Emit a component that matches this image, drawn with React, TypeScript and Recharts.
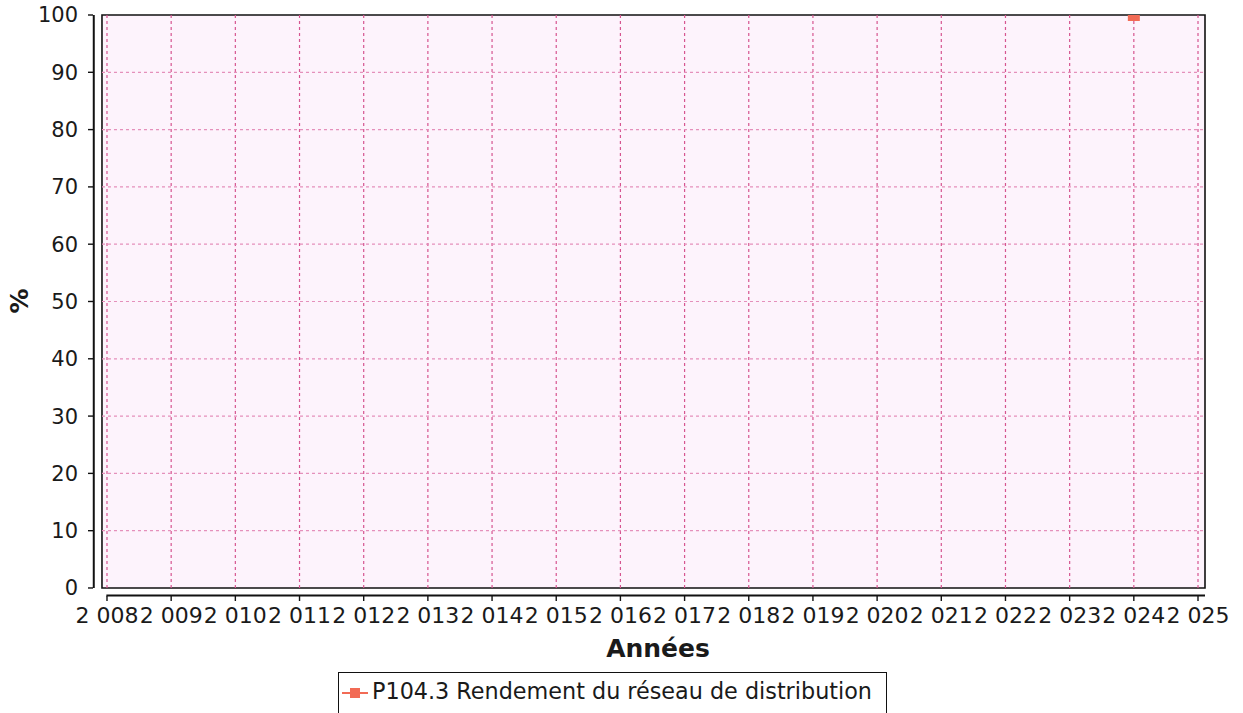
import React from 'react';
import {
  LineChart, Line, XAxis, YAxis, ReferenceLine, ReferenceArea, Label,
} from 'recharts';

// valeurs
const annees = [2008, 2009, 2010, 2011, 2012, 2013, 2014, 2015, 2016, 2017, 2018, 2019, 2020, 2021, 2022, 2023, 2024, 2025];
const yTicks = [0, 10, 20, 30, 40, 50, 60, 70, 80, 90, 100];
const serieAnnees = [2024];
const serieValeurs = [100];
const serieNom = 'P104.3 Rendement du réseau de distribution';

const data = serieAnnees.map((a, i) => ({ annee: a, valeur: serieValeurs[i] }));

const FONT = '"DejaVu Sans", sans-serif';
const X_MIN = 2007.782;
const X_MAX = 2025.109;
const BOX_LEFT = 2007.922;
const AXIS_X_START = 2007.99;
const Y_MIN = -1.4;
const ORANGE = '#f26b55';

const fmtAnnee = (v: number) => `${Math.floor(v / 1000)} ${String(v % 1000).padStart(3, '0')}`;

const SquareDot = (props: any) => {
  const { cx, cy } = props;
  if (cx == null || cy == null) return null;
  return <rect x={cx - 6} y={cy - 6} width={12} height={12} fill={ORANGE} />;
};

export default function App() {
  return (
    <div style={{ position: 'absolute', left: 0, top: 0, width: 1243, height: 713, overflow: 'hidden', background: '#fff' }}>
      <LineChart
        width={1243}
        height={713}
        data={data}
        margin={{ top: 15, right: 38, left: 0, bottom: 0 }}
      >
        {/* fond rose du cadre */}
        <ReferenceArea x1={BOX_LEFT} x2={X_MAX} y1={0} y2={100} fill="#ee88dd" fillOpacity={0.1} stroke="none" ifOverflow="visible" />

        {annees.map((a) => (
          <ReferenceLine
            key={'v' + a}
            segment={[{ x: a, y: 0 }, { x: a, y: 100 }]}
            stroke="#d65590"
            strokeDasharray="3 3"
            strokeWidth={1.2}
            ifOverflow="visible"
          />
        ))}
        {yTicks.slice(1, -1).map((t) => (
          <ReferenceLine
            key={'h' + t}
            segment={[{ x: BOX_LEFT, y: t }, { x: X_MAX, y: t }]}
            stroke="#e590bb"
            strokeDasharray="3 3"
            strokeWidth={1.2}
            ifOverflow="visible"
          />
        ))}

        {/* cadre */}
        <ReferenceArea x1={BOX_LEFT} x2={X_MAX} y1={0} y2={100} fill="none" stroke="#111" strokeWidth={1.6} ifOverflow="visible" />

        {/* lignes des axes décalées */}
        <ReferenceLine segment={[{ x: X_MIN + 0.012, y: 0 }, { x: X_MIN + 0.012, y: 100 }]} stroke="#111" strokeWidth={2} ifOverflow="visible" />
        <ReferenceLine segment={[{ x: AXIS_X_START, y: Y_MIN + 0.1 }, { x: X_MAX, y: Y_MIN + 0.1 }]} stroke="#111" strokeWidth={2} ifOverflow="visible" />

        <XAxis
          dataKey="annee"
          type="number"
          domain={[X_MIN, X_MAX]}
          ticks={annees}
          interval={0}
          tickFormatter={fmtAnnee}
          axisLine={false}
          tickLine={{ stroke: '#111', strokeWidth: 1.4 }}
          tickSize={5}
          tickMargin={6}
          height={117}
          tick={{ fontSize: 22, fill: '#1a1a1a', fontFamily: FONT }}
          allowDataOverflow
        >
          <Label
            content={() => (
              <text x={658} y={648} textAnchor="middle" dominantBaseline="central" fontFamily={FONT} fontWeight="bold" fontSize={25} fill="#1a1a1a">
                Années
              </text>
            )}
          />
        </XAxis>
        <YAxis
          type="number"
          domain={[Y_MIN, 100]}
          ticks={yTicks}
          interval={0}
          width={93}
          axisLine={false}
          tickLine={{ stroke: '#111', strokeWidth: 1.4 }}
          tickSize={5}
          tickMargin={10}
          tick={{ fontSize: 21, fill: '#1a1a1a', fontFamily: FONT }}
          allowDataOverflow
        >
          <Label
            content={() => (
              <text x={19} y={301} textAnchor="middle" dominantBaseline="central" transform="rotate(-90 19 301)" fontFamily={FONT} fontWeight="bold" fontSize={25} fill="#1a1a1a">
                %
              </text>
            )}
          />
        </YAxis>

        <Line
          dataKey="valeur"
          name={serieNom}
          stroke={ORANGE}
          strokeWidth={2}
          dot={<SquareDot />}
          activeDot={false}
          isAnimationActive={false}
        />
      </LineChart>

      <div
        style={{
          position: 'absolute', left: 338, top: 672, width: 549, height: 50,
          border: '1.6px solid #111', boxSizing: 'border-box', background: '#fff',
          fontFamily: FONT, fontSize: 22.3, color: '#1a1a1a',
        }}
      >
        <svg width={30} height={20} style={{ position: 'absolute', left: 3, top: 10 }}>
          <line x1={0} y1={10} x2={26} y2={10} stroke={ORANGE} strokeWidth={2} />
          <rect x={8} y={5} width={10} height={10} fill={ORANGE} />
        </svg>
        <span style={{ position: 'absolute', left: 33, top: 5, whiteSpace: 'nowrap' }}>{serieNom}</span>
      </div>
    </div>
  );
}
